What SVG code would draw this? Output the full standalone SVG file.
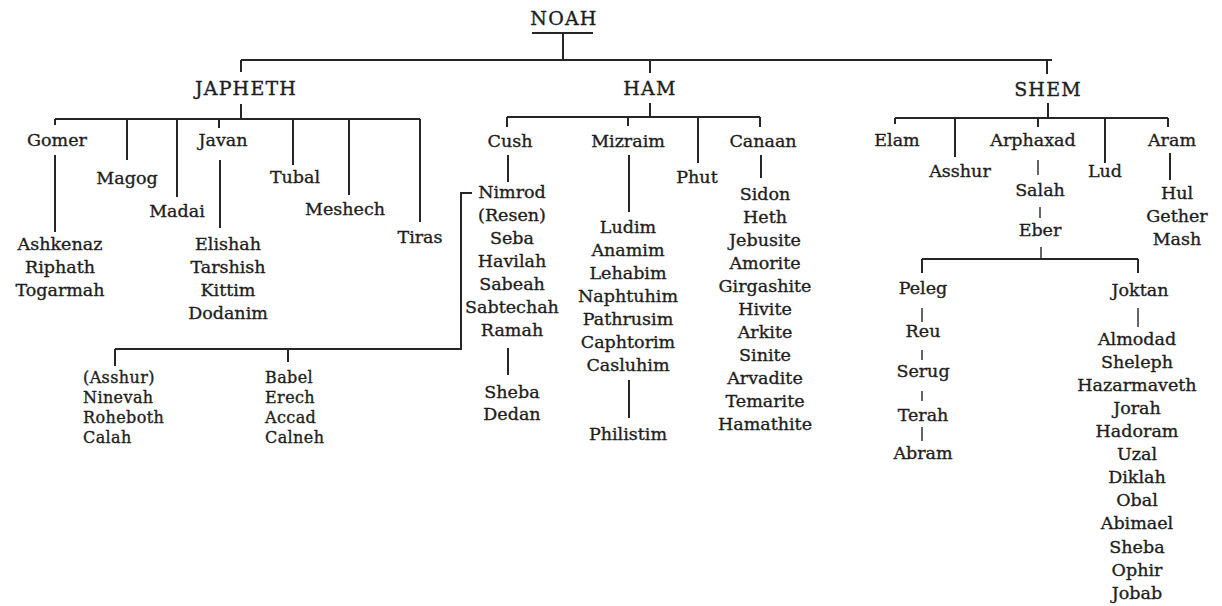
<svg xmlns="http://www.w3.org/2000/svg" width="1222" height="606" viewBox="0 0 1222 606">
<style>
text{font-family:"DejaVu Serif","Liberation Serif",serif;fill:#1e1e1e;stroke:#1e1e1e;stroke-width:0.35px;}
.c{font-size:19px;letter-spacing:1.2px;text-anchor:middle;}
.n{font-size:17.5px;text-anchor:middle;}
.s{font-size:16px;letter-spacing:0.4px;}
.ln{stroke:#262626;stroke-width:2;fill:none;}
.th{stroke:#333;stroke-width:1.5;fill:none;}
</style>
<rect width="1222" height="606" fill="#ffffff"/>
<g id="connectors">
<path class="ln" d="M532 33H593M563 33V60M241 60H1052M241 60V72M650 60V73M1047 60V74"/>
<path class="ln" d="M241 104V119M55 119H420M55 119V125M127 119V160M177 119V197M219 119V128M293 119V165M349 119V195M420 119V222"/>
<path class="ln" d="M55 155V232M220 160V228"/>
<path class="ln" d="M650 103V117M507 117H760M507 117V127M628 117V126M698 117V163M760 117V127"/>
<path class="ln" d="M508 155V182M629 155V212M761 155V178M629 380V418M508 348V375"/>
<path class="ln" d="M472 193H461V349H115M115 349V366M288 349V362"/>
<path class="ln" d="M1048 103V118M895 118H1168M895 118V124M955 118V157M1038 118V127M1105 118V163M1168 118V127M1170 153V180"/>
<path class="th" d="M1038 160V175M1040 207V218M1041 247V259"/>
<path class="ln" d="M922 259H1138M922 259V273M1138 259V273"/>
<path class="th" d="M922 308V322M922 350V360M922 391V401M922 427V441M1138 308V327"/>
</g>
<g id="noah"><text class="c" x="564" y="25">NOAH</text></g>
<g id="japheth"><text class="c" x="246" y="95">JAPHETH</text></g>
<g id="ham"><text class="c" x="650" y="95">HAM</text></g>
<g id="shem"><text class="c" x="1048" y="96">SHEM</text></g>
<g id="gomer"><text class="n" x="57" y="146">Gomer</text></g>
<g id="gomer-sons"><text class="n" x="60" y="250">Ashkenaz</text><text class="n" x="60" y="273">Riphath</text><text class="n" x="60" y="296">Togarmah</text></g>
<g id="magog"><text class="n" x="127" y="184">Magog</text></g>
<g id="madai"><text class="n" x="177" y="217">Madai</text></g>
<g id="javan"><text class="n" x="223" y="146">Javan</text></g>
<g id="javan-sons"><text class="n" x="228" y="250">Elishah</text><text class="n" x="228" y="273">Tarshish</text><text class="n" x="228" y="296">Kittim</text><text class="n" x="228" y="319">Dodanim</text></g>
<g id="tubal"><text class="n" x="295" y="183">Tubal</text></g>
<g id="meshech"><text class="n" x="345" y="215">Meshech</text></g>
<g id="tiras"><text class="n" x="420" y="243">Tiras</text></g>
<g id="cush"><text class="n" x="510" y="147">Cush</text></g>
<g id="cush-sons"><text class="n" x="512" y="198">Nimrod</text><text class="n" x="512" y="221">(Resen)</text><text class="n" x="512" y="244">Seba</text><text class="n" x="512" y="267">Havilah</text><text class="n" x="512" y="290">Sabeah</text><text class="n" x="512" y="313">Sabtechah</text><text class="n" x="512" y="336">Ramah</text></g>
<g id="ramah-sons"><text class="n" x="512" y="398">Sheba</text><text class="n" x="512" y="420">Dedan</text></g>
<g id="asshur-cities"><text class="s" x="83" y="383">(Asshur)</text><text class="s" x="83" y="403">Ninevah</text><text class="s" x="83" y="423">Roheboth</text><text class="s" x="83" y="443">Calah</text></g>
<g id="babel-cities"><text class="s" x="265" y="383">Babel</text><text class="s" x="265" y="403">Erech</text><text class="s" x="265" y="423">Accad</text><text class="s" x="265" y="443">Calneh</text></g>
<g id="mizraim"><text class="n" x="628" y="147">Mizraim</text></g>
<g id="mizraim-sons"><text class="n" x="628" y="233">Ludim</text><text class="n" x="628" y="256">Anamim</text><text class="n" x="628" y="279">Lehabim</text><text class="n" x="628" y="302">Naphtuhim</text><text class="n" x="628" y="325">Pathrusim</text><text class="n" x="628" y="348">Caphtorim</text><text class="n" x="628" y="371">Casluhim</text></g>
<g id="philistim"><text class="n" x="628" y="440">Philistim</text></g>
<g id="phut"><text class="n" x="697" y="183">Phut</text></g>
<g id="canaan"><text class="n" x="763" y="147">Canaan</text></g>
<g id="canaan-sons"><text class="n" x="765" y="200">Sidon</text><text class="n" x="765" y="223">Heth</text><text class="n" x="765" y="246">Jebusite</text><text class="n" x="765" y="269">Amorite</text><text class="n" x="765" y="292">Girgashite</text><text class="n" x="765" y="315">Hivite</text><text class="n" x="765" y="338">Arkite</text><text class="n" x="765" y="361">Sinite</text><text class="n" x="765" y="384">Arvadite</text><text class="n" x="765" y="407">Temarite</text><text class="n" x="765" y="430">Hamathite</text></g>
<g id="elam"><text class="n" x="897" y="146">Elam</text></g>
<g id="asshur"><text class="n" x="960" y="177">Asshur</text></g>
<g id="arphaxad"><text class="n" x="1033" y="146">Arphaxad</text></g>
<g id="salah"><text class="n" x="1040" y="196">Salah</text></g>
<g id="eber"><text class="n" x="1040" y="236">Eber</text></g>
<g id="lud"><text class="n" x="1105" y="177">Lud</text></g>
<g id="aram"><text class="n" x="1172" y="146">Aram</text></g>
<g id="aram-sons"><text class="n" x="1177" y="199">Hul</text><text class="n" x="1177" y="222">Gether</text><text class="n" x="1177" y="245">Mash</text></g>
<g id="peleg"><text class="n" x="923" y="294">Peleg</text></g>
<g id="reu"><text class="n" x="923" y="337">Reu</text></g>
<g id="serug"><text class="n" x="923" y="377">Serug</text></g>
<g id="terah"><text class="n" x="923" y="421">Terah</text></g>
<g id="abram"><text class="n" x="923" y="459">Abram</text></g>
<g id="joktan"><text class="n" x="1140" y="296">Joktan</text></g>
<g id="joktan-sons"><text class="n" x="1137" y="345">Almodad</text><text class="n" x="1137" y="368">Sheleph</text><text class="n" x="1137" y="391">Hazarmaveth</text><text class="n" x="1137" y="414">Jorah</text><text class="n" x="1137" y="437">Hadoram</text><text class="n" x="1137" y="460">Uzal</text><text class="n" x="1137" y="483">Diklah</text><text class="n" x="1137" y="506">Obal</text><text class="n" x="1137" y="529">Abimael</text><text class="n" x="1137" y="553">Sheba</text><text class="n" x="1137" y="576">Ophir</text><text class="n" x="1137" y="599">Jobab</text></g>
</svg>
